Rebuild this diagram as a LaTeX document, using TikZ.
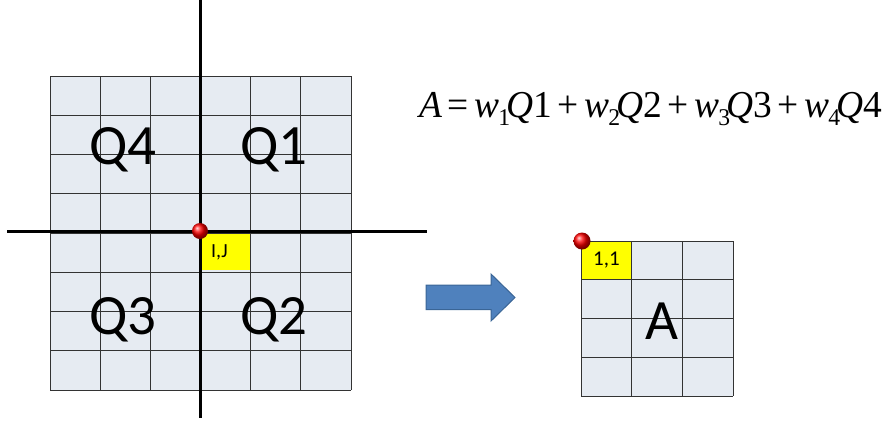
\documentclass[tikz,border=0pt]{standalone}
\usepackage{fontspec}
\setmainfont{Carlito}
\newfontfamily\eqfont{Liberation Serif}
\usetikzlibrary{shapes.geometric}
\definecolor{cellfill}{HTML}{E6EBF2}
\definecolor{cellline}{HTML}{333333}
\definecolor{hiyellow}{HTML}{FFFF00}
\definecolor{arrowblue}{HTML}{4F81BD}
\definecolor{arrowedge}{HTML}{3A6596}
\newcommand\eqterm[1]{\textit{w}\kern-.03em\raisebox{-.22em}{\fontsize{24}{24}\selectfont #1}\kern-.1em\textit{Q}#1}
\newcommand\eqop[1]{\kern.15em#1\kern.15em}
\tikzset{
  gridline/.style={draw=cellline, line width=0.8pt},
  axisline/.style={draw=black, line width=3pt},
  qlabel/.style={font=\fontsize{57}{60}\selectfont, inner sep=0pt},
  cellnum/.style={font=\fontsize{20}{22}\selectfont, inner sep=0pt},
  redball/.style={ball color=red},
}
\begin{document}
\begin{tikzpicture}[x=1pt,y=-1pt]
\useasboundingbox (0,0) rectangle (889,424);
% left grid
\fill[cellfill] (50,76) rectangle (351,390);
\fill[hiyellow] (200,231) rectangle (250.2,270.25);
\foreach \i in {0,...,6} \draw[gridline] ({50+\i*50.17},76) -- ({50+\i*50.17},390);
\foreach \j in {0,...,8} \draw[gridline] (50,{76+\j*39.25}) -- (351,{76+\j*39.25});
% axes
\coordinate (vtop) at (200,0);
\coordinate (vbot) at (200,418);
\coordinate (hleft) at (7,231);
\coordinate (hright) at (427,231);
\draw[axisline] (vtop) -- (vbot);
\draw[axisline] (hleft) -- (hright);
\shade[redball] (200,231) circle (8);
\node[cellnum] (ij) at (219.5,252) {I,J};
% quadrant labels
\node[qlabel] (q4) at (123,150) {Q4};
\node[qlabel] (q1) at (274,150) {Q1};
\node[qlabel] (q3) at (123,320) {Q3};
\node[qlabel] (q2) at (274,320) {Q2};
% equation
\node[anchor=base west, inner sep=0pt, font=\eqfont\fontsize{38}{46}\selectfont] (eq) at (419,117)
  {\scalebox{0.985}[1]{\textit{A}\eqop{=}\eqterm{1}\eqop{+}\eqterm{2}\eqop{+}\eqterm{3}\eqop{+}\eqterm{4}}};
% blue arrow
\filldraw[fill=arrowblue, draw=arrowedge, line width=1pt]
  (426,285) -- (491,285) -- (491,274) -- (515,297.5) -- (491,321) -- (491,309.5) -- (426,309.5) -- cycle;
% right grid
\fill[cellfill] (581,241) rectangle (733,396);
\fill[hiyellow] (581,241) rectangle (631.7,279.75);
\foreach \i in {0,...,3} \draw[gridline] ({581+\i*50.67},241) -- ({581+\i*50.67},396);
\foreach \j in {0,...,4} \draw[gridline] (581,{241+\j*38.75}) -- (733,{241+\j*38.75});
\shade[redball] (582,241) circle (8.5);
\node[cellnum, font=\fontsize{21}{22}\selectfont] (one) at (606.5,260.5) {1,1};
\node[qlabel] (abig) at (662,321) {A};
\end{tikzpicture}
\end{document}
